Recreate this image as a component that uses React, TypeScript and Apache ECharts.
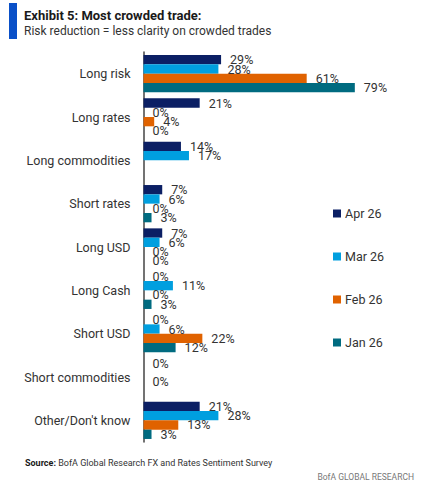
import React, { useEffect, useRef } from "react";
import * as echarts from "echarts";

const categories = [
  "Long risk",
  "Long rates",
  "Long commodities",
  "Short rates",
  "Long USD",
  "Long Cash",
  "Short USD",
  "Short commodities",
  "Other/Don't know",
];
const seriesNames = ["Apr 26", "Mar 26", "Feb 26", "Jan 26"];
const apr26 = [29, 21, 14, 7, 7, 0, 0, 0, 21];
const mar26 = [28, 0, 17, 6, 6, 11, 6, null, 28];
const feb26 = [61, 4, null, 0, 0, 0, 22, 0, 13];
const jan26 = [79, 0, null, 3, 0, 3, 12, null, 3];
const seriesData = [apr26, mar26, feb26, jan26];
const colors = ["#0b1f64", "#009fdf", "#e06200", "#006b80"];

const FONT = "Roboto, 'Liberation Sans', Arial, sans-serif";

export default function App() {
  const ref = useRef<HTMLDivElement>(null);
  useEffect(() => {
    document.body.style.margin = "0";
    const chart = echarts.init(ref.current!, null, { renderer: "svg" });
    chart.setOption({
      animation: false,
      backgroundColor: "#ffffff",
      textStyle: { fontFamily: FONT },
      graphic: [
        { type: "rect", shape: { x: 9, y: 3, width: 8, height: 36 }, style: { fill: "#0a50c8" } },
        {
          type: "text",
          x: 24,
          y: 15,
          style: { text: "Exhibit 5: Most crowded trade:", fontFamily: FONT, fontWeight: "bold", fontSize: 13, fill: "#1a1a1a", verticalAlign: "middle" },
        },
        {
          type: "text",
          x: 24,
          y: 31,
          style: { text: "Risk reduction = less clarity on crowded trades", fontFamily: FONT, fontSize: 12, fill: "#333333", verticalAlign: "middle" },
        },
        {
          type: "text",
          x: 25,
          y: 463,
          style: {
            text: "{b|Source:} BofA Global Research FX and Rates Sentiment Survey",
            fontFamily: FONT,
            fontSize: 9,
            fill: "#333333",
            verticalAlign: "middle",
            rich: { b: { fontWeight: "bold", fontFamily: FONT, fontSize: 9, fill: "#1a1a1a" } },
          },
        },
        {
          type: "text",
          x: 414,
          y: 477,
          style: { text: "BofA GLOBAL RESEARCH", fontFamily: FONT, fontSize: 8.5, fill: "#777777", align: "right", verticalAlign: "middle" },
        },
      ],
      legend: {
        orient: "vertical",
        left: 328,
        top: 202,
        itemWidth: 8,
        itemHeight: 8,
        itemGap: 30,
        icon: "rect",
        data: seriesNames,
        textStyle: { fontFamily: FONT, fontSize: 12.5, color: "#333333", padding: [0, 0, 0, -1] },
      },
      grid: { left: 143.5, top: 52, width: 214, height: 390, containLabel: false },
      xAxis: {
        type: "value",
        min: 0,
        max: 80,
        show: false,
      },
      yAxis: {
        type: "category",
        data: categories,
        inverse: true,
        axisLine: { show: true, lineStyle: { color: "#444444", width: 1.5 } },
        axisTick: { show: false },
        axisLabel: { fontFamily: FONT, fontSize: 12.5, color: "#333333", margin: 13 },
      },
      series: seriesNames.map((name, i) => ({
        name,
        type: "bar",
        data: seriesData[i],
        itemStyle: { color: colors[i] },
        barGap: "0%",
        barCategoryGap: "14%",
        label: {
          show: true,
          position: "right",
          distance: 9,
          formatter: "{c}%",
          fontFamily: FONT,
          fontSize: 12.5,
          color: "#333333",
        },
      })),
    });
    return () => chart.dispose();
  }, []);
  return <div ref={ref} style={{ width: 427, height: 492 }} />;
}
